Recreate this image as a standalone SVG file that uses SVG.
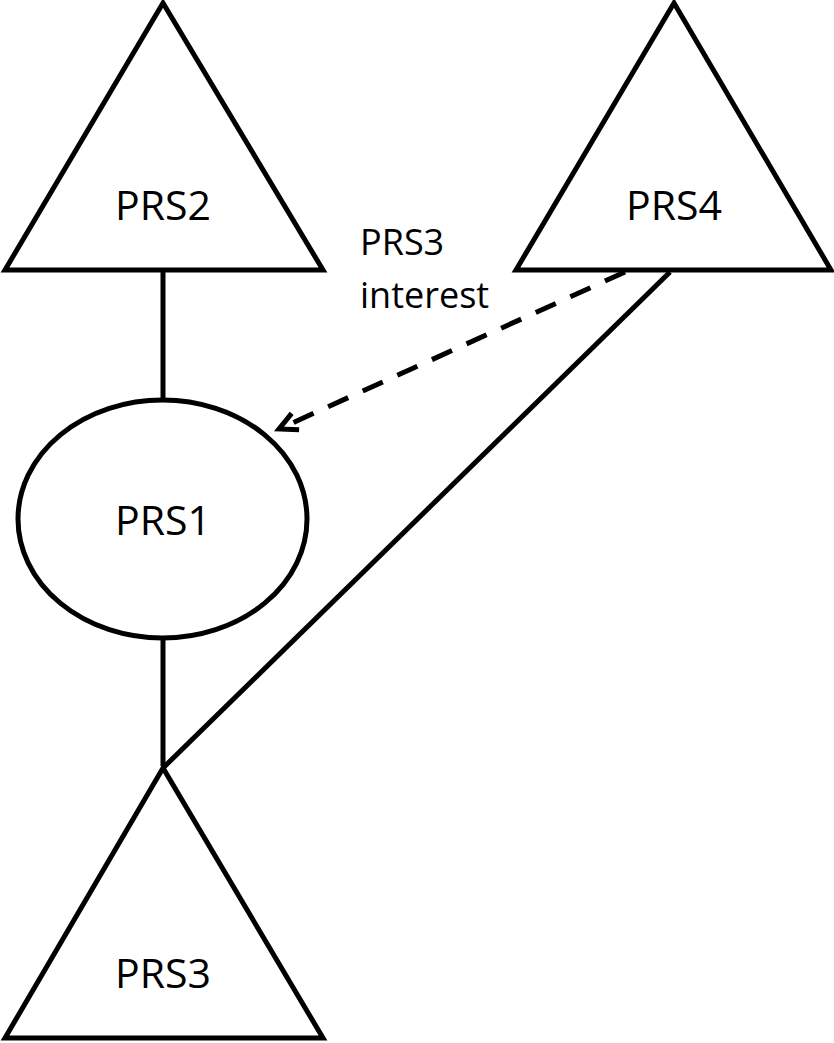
<svg xmlns="http://www.w3.org/2000/svg" width="834" height="1043" viewBox="0 0 834 1043">
<style>
.shape{fill:#fff;stroke:#000;stroke-width:5;stroke-linejoin:miter}
.lbl{font-family:"Open Sans","Liberation Sans",sans-serif;font-size:41px;fill:#000;text-anchor:middle}
.note{font-family:"Open Sans","Liberation Sans",sans-serif;font-size:36px;fill:#000}
.conn{stroke:#000;stroke-width:5;fill:none}
.dash{stroke:#000;stroke-width:5;fill:none;stroke-dasharray:22 16}
</style>
<defs>
<marker id="open" markerUnits="userSpaceOnUse" markerWidth="30" markerHeight="30" refX="22" refY="10" orient="auto" viewBox="0 0 30 20" overflow="visible">
<path d="M4,1 L22,10 L4,19" fill="none" stroke="#000" stroke-width="5"/>
</marker>
</defs>
<g id="PRS2">
<polygon class="shape" points="163,3 5,270 323,270"/>
<text class="lbl" x="163" y="220">PRS2</text>
</g>
<g id="PRS4">
<polygon class="shape" points="674,3 516,270 831,270"/>
<text class="lbl" x="674" y="220">PRS4</text>
</g>
<g id="PRS1">
<ellipse class="shape" cx="162.5" cy="519" rx="144.5" ry="119"/>
<text class="lbl" x="163" y="535">PRS1</text>
</g>
<g id="PRS3">
<polygon class="shape" points="163,768 5,1038 323,1038"/>
<text class="lbl" x="163" y="988">PRS3</text>
</g>
<g id="connectors">
<line class="conn" x1="163" y1="272" x2="163" y2="400"/>
<line class="conn" x1="163" y1="638" x2="163" y2="766"/>
<line class="conn" x1="670" y1="272" x2="163" y2="768"/>
<line class="dash" x1="625" y1="272" x2="279" y2="429" marker-end="url(#open)"/>
<text class="note" x="360" y="255">PRS3</text>
<text class="note" x="360" y="308">interest</text>
</g>
</svg>
